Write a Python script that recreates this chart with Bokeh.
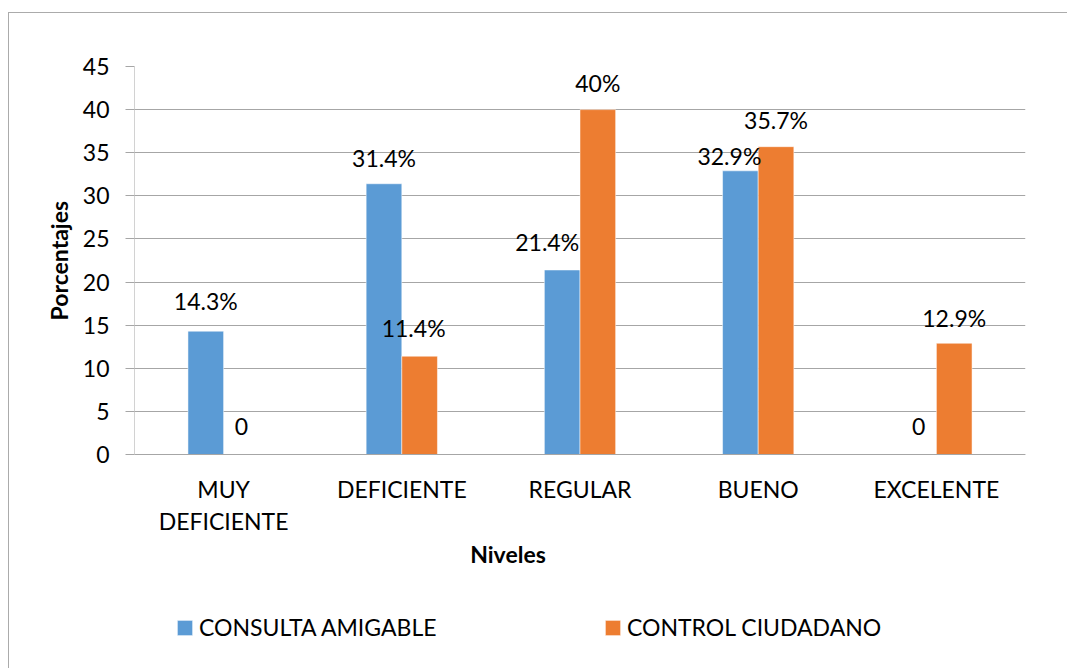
from bokeh.plotting import figure
from bokeh.models import (ColumnDataSource, Legend, LegendItem, FixedTicker,
                          Range1d, Title)
from bokeh.core.properties import value
from bokeh.embed import file_html
from bokeh.resources import INLINE

categories = ["MUY DEFICIENTE", "DEFICIENTE", "REGULAR", "BUENO", "EXCELENTE"]
label_line1 = ["MUY", "DEFICIENTE", "REGULAR", "BUENO", "EXCELENTE"]
label_line2 = ["DEFICIENTE", "", "", "", ""]
consulta = [14.3, 31.4, 21.4, 32.9, 0]
control = [0, 11.4, 40, 35.7, 12.9]
consulta_text = ["14.3%", "31.4%", "21.4%", "32.9%", "0"]
control_text = ["0", "11.4%", "40%", "35.7%", "12.9%"]
series_names = ["CONSULTA AMIGABLE", "CONTROL CIUDADANO"]
x_title = "Niveles"
y_title = "Porcentajes"
y_ticks = [0, 5, 10, 15, 20, 25, 30, 35, 40, 45]

# label nudges in pixels (style only)
consulta_dx = [0, 0, -15, -11, 0]
consulta_dy = [-30, -26, -28, -15, -28]
control_dx = [0, -6, 0, 0, 0]
control_dy = [-28, -28, -27, -27, -25]

BLUE = "#5b9bd5"
ORANGE = "#ed7d31"
GRID = "#a6a6a6"
FONT = "Lato"
FS = "23px"
BAR_W = 0.2

W, H = 1067, 668
FRAME_L, FRAME_R, FRAME_T, ZERO_Y = 134, 1025, 66, 454   # pixel layout
n = len(categories)
y_max = y_ticks[-1]
# frame runs to the bottom of the canvas; the value range below 0 holds the
# category labels, the axis title and the legend
y_min = -y_max * (H - ZERO_Y) / (ZERO_Y - FRAME_T)

centers = [i + 0.5 for i in range(n)]
src = ColumnDataSource(dict(
    cat=categories,
    xc=[c - BAR_W / 2 for c in centers], xo=[c + BAR_W / 2 for c in centers],
    xm=centers, zero=[0] * n, l1=label_line1, l2=label_line2,
    consulta=consulta, control=control,
    consulta_text=consulta_text, control_text=control_text,
    cdx=consulta_dx, cdy=consulta_dy, odx=control_dx, ody=control_dy,
))

p = figure(width=W, height=H, x_range=Range1d(0, n), y_range=Range1d(y_min, y_max),
           output_backend="svg", toolbar_location=None,
           min_border_left=FRAME_L, min_border_right=W - FRAME_R,
           min_border_top=FRAME_T, min_border_bottom=0)
p.outline_line_color = None
p.background_fill_color = "white"
p.border_fill_alpha = 0
p.styles = {"box-shadow": "inset 8px 12px 0 0 #ffffff, inset 9px 13px 0 0 #ababab",
            "background-color": "#ffffff"}

r1 = p.vbar(x="xc", top="consulta", width=BAR_W, source=src, color=BLUE,
            line_color="white", line_width=0.5)
r2 = p.vbar(x="xo", top="control", width=BAR_W, source=src, color=ORANGE,
            line_color="white", line_width=0.5)

# axis lines (value axis from 0 to max, category axis along 0)
p.segment(x0=[0], y0=[y_ticks[0]], x1=[0], y1=[y_max], line_color=GRID, line_width=1)
p.segment(x0=[0], y0=[0], x1=[n], y1=[0], line_color=GRID, line_width=1)

txt = dict(text_align="center", text_baseline="middle", text_font=value(FONT),
           text_font_size=FS, text_color="black")
p.text(x="xc", y="consulta", text="consulta_text", x_offset="cdx", y_offset="cdy",
       source=src, **txt)
p.text(x="xo", y="control", text="control_text", x_offset="odx", y_offset="ody",
       source=src, **txt)

# category labels (two lines) and x title
p.text(x="xm", y="zero", text="l1", y_offset=34, source=src, **txt)
p.text(x="xm", y="zero", text="l2", y_offset=66, source=src, **txt)
p.text(x=[n / 2], y=[0], text=[x_title], x_offset=-72, y_offset=99,
       text_font_style="bold", **txt)

# y axis
p.yaxis.ticker = FixedTicker(ticks=y_ticks)
p.yaxis.major_label_text_font = FONT
p.yaxis.major_label_text_font_size = FS
p.yaxis.major_label_text_color = "black"
p.yaxis.major_label_standoff = 16
p.yaxis.major_tick_out = 9
p.yaxis.major_tick_in = 0
p.yaxis.minor_tick_line_color = None
p.yaxis.axis_line_color = None
p.yaxis.major_tick_line_color = GRID
p.xaxis.visible = False

p.add_layout(Title(text=y_title, align="left", offset=348, text_font=FONT,
                   text_font_style="bold", text_font_size=FS, text_color="black",
                   standoff=14), "left")

p.xgrid.grid_line_color = None
p.ygrid.grid_line_color = GRID
p.ygrid.grid_line_width = 1
p.ygrid.ticker = FixedTicker(ticks=y_ticks)

leg = Legend(items=[LegendItem(label=series_names[0], renderers=[r1]),
                    LegendItem(label=series_names[1], renderers=[r2])],
             orientation="horizontal", location=(41, 27),
             glyph_width=19, glyph_height=19, label_standoff=5,
             label_width=250, spacing=154,
             label_text_font=FONT, label_text_font_size=FS, label_text_color="black",
             border_line_color=None, background_fill_alpha=0, padding=0,
             margin=0)
p.add_layout(leg, "center")

open("out.html", "w").write(file_html(p, INLINE))
